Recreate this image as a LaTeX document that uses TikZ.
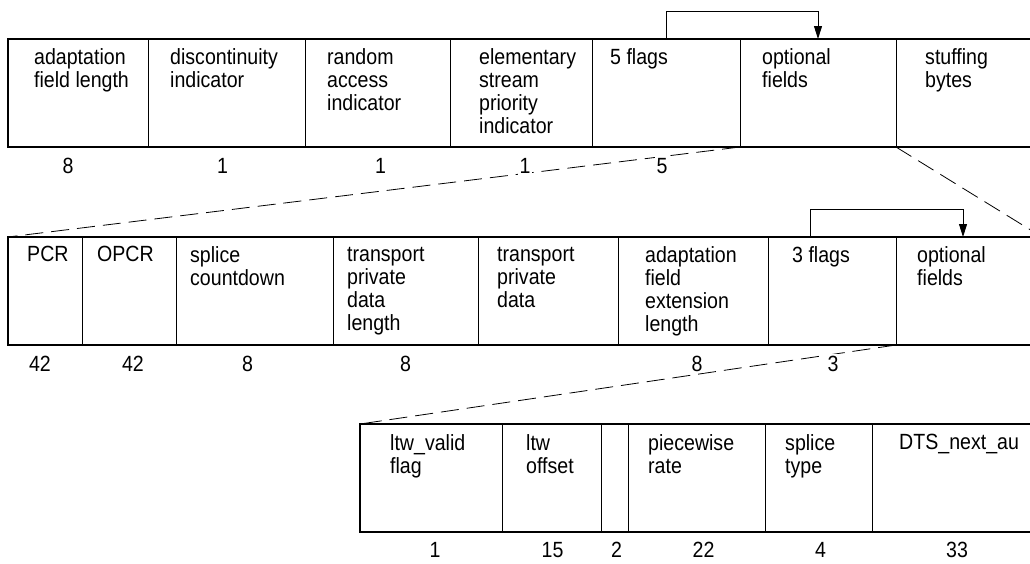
\documentclass[tikz,border=0pt]{standalone}
\usepackage{fontspec}
\setmainfont{Liberation Sans}[FakeStretch=0.89]
\usetikzlibrary{positioning,arrows.meta}

\tikzset{
  field/.style={anchor=north west, minimum height=108pt, inner sep=0pt, outer sep=0pt},
  ftext/.style={anchor=north west, align=left, inner sep=0pt, font=\fontsize{22}{23}\selectfont},
  bits/.style={anchor=base, fill=white, inner sep=2pt, font=\fontsize{22}{23}\selectfont},
  border/.style={line width=1.8pt},
  divider/.style={line width=0.8pt},
  link/.style={line width=0.8pt, dash pattern=on 18pt off 8pt},
  flow/.style={line width=0.9pt, -{Triangle[length=13pt,width=8pt]}},
}

\begin{document}
\begin{tikzpicture}[x=1pt,y=-1pt]
\useasboundingbox (0,0) rectangle (1030,563);
\clip (0,0) rectangle (1030,563);

\node[field, minimum width=140pt] (afl) at (8,39) {};
\node[field, minimum width=157pt, right=0pt of afl] (disc) {};
\node[field, minimum width=145pt, right=0pt of disc] (rai) {};
\node[field, minimum width=142pt, right=0pt of rai] (espi) {};
\node[field, minimum width=148pt, right=0pt of espi] (flagsA) {};
\node[field, minimum width=156pt, right=0pt of flagsA] (optA) {};
\node[field, minimum width=134pt, right=0pt of optA] (stuff) {};

\node[field, minimum width=74pt] (pcr) at (8,237) {};
\node[field, minimum width=94pt, right=0pt of pcr] (opcr) {};
\node[field, minimum width=157pt, right=0pt of opcr] (spc) {};
\node[field, minimum width=145pt, right=0pt of spc] (tpdl) {};
\node[field, minimum width=140pt, right=0pt of tpdl] (tpd) {};
\node[field, minimum width=150pt, right=0pt of tpd] (afel) {};
\node[field, minimum width=128pt, right=0pt of afel] (flagsB) {};
\node[field, minimum width=134pt, right=0pt of flagsB] (optB) {};

\node[field, minimum width=142pt] (ltwv) at (360,424) {};
\node[field, minimum width=99pt, right=0pt of ltwv] (ltwo) {};
\node[field, minimum width=27pt, right=0pt of ltwo] (resv) {};
\node[field, minimum width=137pt, right=0pt of resv] (pwr) {};
\node[field, minimum width=107pt, right=0pt of pwr] (spt) {};
\node[field, minimum width=158pt, right=0pt of spt] (dts) {};

\coordinate (farB) at (1042,237);
\draw[link] (optA.south west) -- (pcr.north west);
\draw[link] (stuff.south west) -- (farB);
\draw[link] (optB.south west) -- (ltwv.north west);

\foreach \c in {afl,disc,rai,espi,flagsA,optA,pcr,opcr,spc,tpdl,tpd,afel,flagsB,ltwv,ltwo,resv,pwr,spt}
  \draw[divider] (\c.north east) -- (\c.south east);

\draw[border] (stuff.north east) -- (afl.north west) -- (afl.south west) -- (stuff.south east);
\draw[border] (optB.north east) -- (pcr.north west) -- (pcr.south west) -- (optB.south east);
\draw[border] (dts.north east) -- (ltwv.north west) -- (ltwv.south west) -- (dts.south east);

\draw[flow] (flagsA.north) -- ++(0,-28) -| (optA.north);
\draw[flow] ([xshift=-22pt]flagsB.north) -- ++(0,-28) -| (optB.north);

\node[ftext] (t1) at ([shift={(26,9)}]afl.north west) {adaptation\\field length};
\node[ftext] (t2) at ([shift={(22,9)}]disc.north west) {discontinuity\\indicator};
\node[ftext] (t3) at ([shift={(22,9)}]rai.north west) {random\\access\\indicator};
\node[ftext] (t4) at ([shift={(29,9)}]espi.north west) {elementary\\stream\\priority\\indicator};
\node[ftext] (t5) at ([shift={(18,9)}]flagsA.north west) {5 flags};
\node[ftext] (t6) at ([shift={(22,9)}]optA.north west) {optional\\fields};
\node[ftext] (t7) at ([shift={(29,9)}]stuff.north west) {stuffing\\bytes};

\node[ftext] (u1) at ([shift={(19,9)}]pcr.north west) {PCR};
\node[ftext] (u2) at ([shift={(15,9)}]opcr.north west) {OPCR};
\node[ftext] (u3) at ([shift={(14,9)}]spc.north west) {splice\\countdown};
\node[ftext] (u4) at ([shift={(14,10)}]tpdl.north west) {transport\\private\\data\\length};
\node[ftext] (u5) at ([shift={(19,10)}]tpd.north west) {transport\\private\\data};
\node[ftext] (u6) at ([shift={(27,9)}]afel.north west) {adaptation\\field\\extension\\length};
\node[ftext] (u7) at ([shift={(24,9)}]flagsB.north west) {3 flags};
\node[ftext] (u8) at ([shift={(21,9)}]optB.north west) {optional\\fields};

\node[ftext] (v1) at ([shift={(30,10)}]ltwv.north west) {ltw\_valid\\flag};
\node[ftext] (v2) at ([shift={(24,10)}]ltwo.north west) {ltw\\offset};
\node[ftext] (v4) at ([shift={(20,10)}]pwr.north west) {piecewise\\rate};
\node[ftext] (v5) at ([shift={(20,10)}]spt.north west) {splice\\type};
\node[ftext] (v6) at ([shift={(27,10)}]dts.north west) {DTS\_next\_au};

\node[bits] (n1) at ([shift={(-10,26)}]afl.south) {8};
\node[bits] (n2) at ([shift={(-4,26)}]disc.south) {1};
\node[bits] (n3) at ([shift={(3,26)}]rai.south) {1};
\node[bits] (n4) at ([shift={(4,26)}]espi.south) {1};
\node[bits] (n5) at ([shift={(-4,26)}]flagsA.south) {5};

\node[bits] (m1) at ([shift={(-5,26)}]pcr.south) {42};
\node[bits] (m2) at ([shift={(4,26)}]opcr.south) {42};
\node[bits] (m3) at ([shift={(-7,26)}]spc.south) {8};
\node[bits] (m4) at ([shift={(0,26)}]tpdl.south) {8};
\node[bits] (m6) at ([shift={(4,26)}]afel.south) {8};
\node[bits] (m7) at ([shift={(1,26)}]flagsB.south) {3};

\node[bits] (k1) at ([shift={(4,25)}]ltwv.south) {1};
\node[bits] (k2) at ([shift={(1,25)}]ltwo.south) {15};
\node[bits] (k3) at ([shift={(2,25)}]resv.south) {2};
\node[bits] (k4) at ([shift={(7,25)}]pwr.south) {22};
\node[bits] (k5) at ([shift={(2,25)}]spt.south) {4};
\node[bits] (k6) at ([shift={(6,25)}]dts.south) {33};
\end{tikzpicture}
\end{document}
